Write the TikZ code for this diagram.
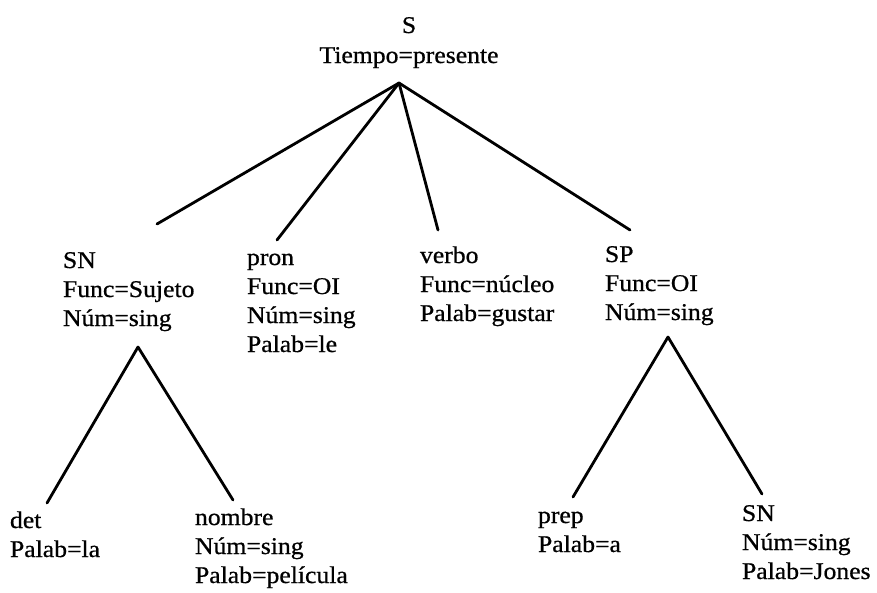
\documentclass[tikz,border=0pt]{standalone}
\usepackage{fontspec}
\setmainfont[FakeStretch=1.07,FakeBold=0.7]{Liberation Serif}
\begin{document}
\begin{tikzpicture}[x=1pt,y=-1pt,
  feat/.style={inner sep=0pt,outer sep=0pt,anchor=base west,
    font=\fontsize{24}{29}\selectfont},
  branch/.style={line width=2.8pt,line cap=round}]
\useasboundingbox (0,0) rectangle (877,592);
\newcommand{\fs}[1]{\begin{tabular}[t]{@{}l@{}}#1\end{tabular}}

% feature structures
\node[feat,anchor=base] (s) at (409,33)
  {\begin{tabular}[t]{@{}c@{}}S\\[1pt]Tiempo=presente\end{tabular}};
\node[feat] (sn)    at (63,268)  {\fs{SN\\Func=Sujeto\\Núm=sing}};
\node[feat] (pron)  at (247,265) {\fs{pron\\Func=OI\\Núm=sing\\Palab=le}};
\node[feat] (verbo) at (420,263) {\fs{verbo\\Func=núcleo\\Palab=gustar}};
\node[feat] (sp)    at (605,262) {\fs{SP\\Func=OI\\Núm=sing}};
\node[feat] (det)   at (10,528)  {\fs{det\\Palab=la}};
\node[feat] (nom)   at (195,525) {\fs{nombre\\Núm=sing\\Palab=película}};
\node[feat] (prep)  at (538,523) {\fs{prep\\Palab=a}};
\node[feat] (sn2)   at (742,521) {\fs{SN\\Núm=sing\\Palab=Jones}};

% branch points
\coordinate (s-foot)  at (399,83);
\coordinate (sn-foot) at (138,347);
\coordinate (sp-foot) at (668,337);
\coordinate (sn-top)    at (157,224);
\coordinate (pron-top)  at (277,240);
\coordinate (verbo-top) at (438,230);
\coordinate (sp-top)    at (630,230);
\coordinate (det-top)   at (47,503);
\coordinate (nom-top)   at (233,500);
\coordinate (prep-top)  at (573,497);
\coordinate (sn2-top)   at (762,494);

% tree branches
\draw[branch] (s-foot) -- (sn-top);
\draw[branch] (s-foot) -- (pron-top);
\draw[branch] (s-foot) -- (verbo-top);
\draw[branch] (s-foot) -- (sp-top);
\draw[branch] (sn-foot) -- (det-top);
\draw[branch] (sn-foot) -- (nom-top);
\draw[branch] (sp-foot) -- (prep-top);
\draw[branch] (sp-foot) -- (sn2-top);
\end{tikzpicture}
\end{document}
